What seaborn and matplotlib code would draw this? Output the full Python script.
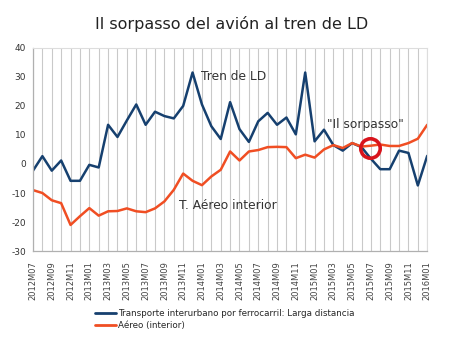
import numpy as np
import pandas as pd
import matplotlib
matplotlib.use("Agg")
import matplotlib.pyplot as plt
import seaborn as sns
from matplotlib.lines import Line2D

months = ["2012M07", "2012M08", "2012M09", "2012M10", "2012M11", "2012M12",
          "2013M01", "2013M02", "2013M03", "2013M04", "2013M05", "2013M06",
          "2013M07", "2013M08", "2013M09", "2013M10", "2013M11", "2013M12",
          "2014M01", "2014M02", "2014M03", "2014M04", "2014M05", "2014M06",
          "2014M07", "2014M08", "2014M09", "2014M10", "2014M11", "2014M12",
          "2015M01", "2015M02", "2015M03", "2015M04", "2015M05", "2015M06",
          "2015M07", "2015M08", "2015M09", "2015M10", "2015M11", "2015M12",
          "2016M01"]

tren_ld = [-2.3, 2.7, -2.3, 1.2, -5.8, -5.8, -0.3, -1.2, 13.5, 9.3, 15.0, 20.5,
           13.5, 18.0, 16.5, 15.7, 20.0, 31.5, 20.5, 13.0, 8.6, 21.3, 12.0, 7.6,
           14.7, 17.6, 13.5, 16.0, 10.2, 31.5, 7.8, 11.8, 6.5, 4.6, 7.2, 5.8,
           1.8, -1.8, -1.8, 4.6, 3.8, -7.4, 2.8]

aereo = [-9.0, -10.0, -12.5, -13.5, -21.0, -18.0, -15.2, -17.8, -16.3, -16.2,
         -15.3, -16.3, -16.6, -15.3, -12.9, -8.9, -3.3, -5.8, -7.3, -4.3,
         -2.0, 4.3, 1.2, 4.3, 4.8, 5.8, 5.9, 5.8, 2.0, 3.2, 2.2, 5.0, 6.5,
         5.5, 7.2, 6.0, 6.3, 6.7, 6.2, 6.2, 7.2, 8.7, 13.5]

series_names = ["Transporte interurbano por ferrocarril: Larga distancia",
                "Aéreo (interior)"]
colors = ["#16406f", "#f04e23"]

title_text = "Il sorpasso del avión al tren de LD"
label_tren = "Tren de LD"
label_aereo = "T. Aéreo interior"
label_sorpasso = "\"Il sorpasso\""
sorpasso_month = "2015M06"

df = pd.DataFrame({
    "x": list(range(len(months))) * 2,
    "valor": tren_ld + aereo,
    "serie": [series_names[0]] * len(months) + [series_names[1]] * len(months),
})

sns.set_style("white")
fig = plt.figure(figsize=(4.49, 3.37), dpi=100)
ax = fig.add_axes([0.0735, 0.255, 0.878, 0.603])

# vertical grid lines every month
ax.set_xticks(range(len(months)), minor=True)
ax.grid(True, axis="x", which="minor", color="#c9c9c9", linewidth=0.8)
ax.grid(True, axis="x", which="major", color="#c9c9c9", linewidth=0.8)
ax.grid(False, axis="y")
ax.set_axisbelow(True)

sns.lineplot(data=df, x="x", y="valor", hue="serie", palette=colors,
             linewidth=1.8, ax=ax, legend=False, sort=False)
for ln in ax.get_lines():
    ln.set_solid_joinstyle("round")
    ln.set_solid_capstyle("round")

ax.set_xlim(0, len(months) - 1)
ax.set_ylim(-30, 40)
ax.set_yticks(range(-30, 41, 10))
ax.set_yticklabels([str(v) for v in range(-30, 41, 10)], fontsize=6.5, color="#333333")
ax.set_xticks(range(0, len(months), 2))
ax.set_xticklabels(months[::2], rotation=90, fontsize=6, color="#444444")
ax.tick_params(axis="x", which="both", length=4, color="#b0b0b0", width=0.8, pad=3)
ax.tick_params(axis="y", length=3, color="#b0b0b0", width=0.8, pad=2)
ax.set_xlabel("")
ax.set_ylabel("")
for s in ["left", "bottom"]:
    ax.spines[s].set_color("#b0b0b0")
    ax.spines[s].set_linewidth(0.9)
for s in ["top", "right"]:
    ax.spines[s].set_color("#dddddd")
    ax.spines[s].set_linewidth(0.8)

fig.text(0.515, 0.93, title_text, ha="center", va="center", fontsize=11.5,
         color="#222222", family="DejaVu Sans")

ax.text(17.9, 30.0, label_tren, fontsize=8.8, color="#333333", va="center")
ax.text(15.6, -14.3, label_aereo, fontsize=8.8, color="#333333", va="center")
ax.text(31.3, 13.6, label_sorpasso, fontsize=8.8, color="#333333", va="center")

si = months.index(sorpasso_month)
ax.plot([si + 0.9], [(tren_ld[si] + aereo[si]) / 2 - 0.4], marker="o", markersize=14,
        markerfacecolor="none", markeredgecolor="#d8141c", markeredgewidth=2.6)

handles = [Line2D([0], [0], color=c, linewidth=2) for c in colors]
fig.legend(handles, series_names, loc="center", bbox_to_anchor=(0.5, 0.052),
           ncol=1, frameon=False, handlelength=2.4, handletextpad=0.2,
           labelspacing=0.3, prop={"family": "Liberation Sans Narrow", "size": 6.3})

fig.savefig("out.png", dpi=100)
